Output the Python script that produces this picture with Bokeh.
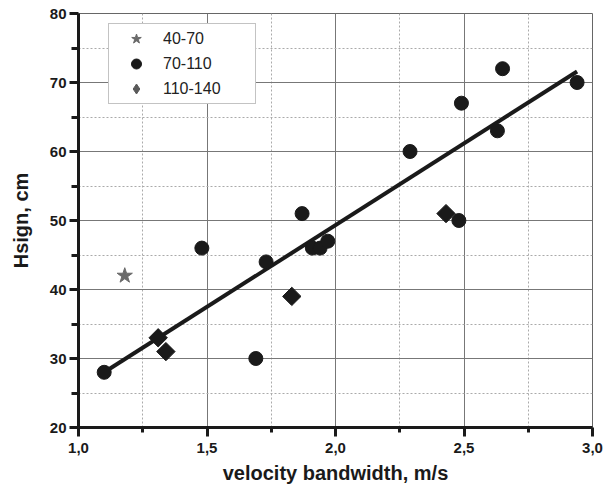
import math
from bokeh.plotting import figure
from bokeh.models import (Range1d, FixedTicker, CustomJSTickFormatter, Legend, LegendItem)
from bokeh.embed import file_html
from bokeh.resources import INLINE

# ---- data ----
star_x = [1.18]
star_y = [42]
circ_x = [1.10, 1.48, 1.69, 1.73, 1.87, 1.91, 1.94, 1.97, 2.29, 2.48, 2.49, 2.63, 2.65, 2.94]
circ_y = [28, 46, 30, 44, 51, 46, 46, 47, 60, 50, 67, 63, 72, 70]
diam_x = [1.31, 1.34, 1.83, 2.43]
diam_y = [33, 31, 39, 51]
fit_x = [1.10, 2.94]
fit_y = [28.0, 71.6]

x_ticks = [1.0, 1.5, 2.0, 2.5, 3.0]
x_minor = [1.25, 1.75, 2.25, 2.75]
y_ticks = [20, 30, 40, 50, 60, 70, 80]
y_minor = [25, 35, 45, 55, 65, 75]
labels = ["40-70", "70-110", "110-140"]

FONT = "Liberation Sans"
DARK = "#1a1a1a"

p = figure(frame_width=514, frame_height=414,
           x_range=Range1d(1.0, 3.0), y_range=Range1d(20, 80),
           output_backend="svg", toolbar_location=None,
           min_border_left=78, min_border_top=13, min_border_right=16, min_border_bottom=55)
p.background_fill_color = "white"
p.border_fill_color = "white"
p.outline_line_color = "#666666"
p.outline_line_width = 1

xt = FixedTicker(ticks=x_ticks, minor_ticks=x_minor)
yt = FixedTicker(ticks=y_ticks, minor_ticks=y_minor)
p.xaxis.ticker = xt
p.yaxis.ticker = yt
p.xgrid.ticker = xt
p.ygrid.ticker = yt
p.xaxis.formatter = CustomJSTickFormatter(code="return tick.toFixed(1).replace('.', ',');")

for g in (p.xgrid, p.ygrid):
    g.grid_line_color = "#777777"
    g.grid_line_width = 1
    g.minor_grid_line_color = "#aaaaaa"
    g.minor_grid_line_dash = "2 2"
    g.minor_grid_line_width = 1

for ax in (p.xaxis, p.yaxis):
    ax.axis_line_color = DARK
    ax.axis_line_width = 3
    ax.major_tick_line_color = DARK
    ax.major_tick_line_width = 3
    ax.minor_tick_line_color = DARK
    ax.minor_tick_line_width = 3
    ax.major_tick_in = 0
    ax.major_tick_out = 9
    ax.minor_tick_in = 0
    ax.major_label_text_font = FONT
    ax.major_label_text_font_style = "bold"
    ax.major_label_text_font_size = "15px"
    ax.major_label_text_color = DARK
    ax.axis_label_text_font = FONT
    ax.axis_label_text_font_style = "bold"
    ax.axis_label_text_font_size = "20px"
    ax.axis_label_text_color = DARK

p.xaxis.minor_tick_out = 5
p.yaxis.minor_tick_out = 7
p.xaxis.major_label_standoff = 6
p.yaxis.major_label_standoff = 3
p.xaxis.axis_label = "velocity bandwidth, m/s"
p.yaxis.axis_label = "Hsign, cm"
p.xaxis.axis_label_standoff = 6
p.yaxis.axis_label_standoff = 15

# fit line
p.line(fit_x, fit_y, line_color=DARK, line_width=4)

r_star = p.scatter(star_x, star_y, marker="star", size=16, fill_color="#6a6a6a", line_color="#6a6a6a")
r_circ = p.scatter(circ_x, circ_y, marker="circle", size=14, fill_color=DARK, line_color=DARK)
r_diam = p.scatter(diam_x, diam_y, marker="square", angle=math.pi / 4, size=13, fill_color=DARK, line_color=DARK)
# legend-only renderer (gray diamond as shown in the reference legend)
r_dleg = p.scatter(diam_x, diam_y, marker="diamond", size=13,
                   fill_color="#5a5a5a", line_color="#5a5a5a", visible=False)

legend = Legend(items=[LegendItem(label=labels[0], renderers=[r_star]),
                       LegendItem(label=labels[1], renderers=[r_circ]),
                       LegendItem(label=labels[2], renderers=[r_dleg])],
                location=(30, 323))
legend.padding = 2
legend.spacing = 0
legend.glyph_height = 25
legend.glyph_width = 50
legend.label_standoff = 2
legend.label_width = 90
legend.label_height = 20
legend.label_text_font = FONT
legend.label_text_font_size = "16px"
legend.label_text_color = "#222222"
legend.border_line_color = "#888888"
legend.border_line_width = 1
legend.background_fill_color = "white"
legend.background_fill_alpha = 1
legend.margin = 0
p.add_layout(legend)

open("out.html", "w").write(file_html(p, INLINE))
